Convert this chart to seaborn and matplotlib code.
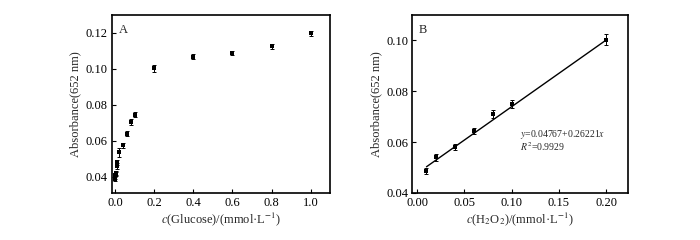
import matplotlib
matplotlib.use('Agg')
import matplotlib.pyplot as plt
import numpy as np
import seaborn as sns
import pandas as pd

# Panel A: glucose response
glu_conc = [0, 0.001, 0.002, 0.004, 0.006, 0.008, 0.01, 0.02, 0.04, 0.06, 0.08, 0.1, 0.2, 0.4, 0.6, 0.8, 1.0]
glu_abs = [0.039, 0.040, 0.041, 0.0415, 0.042, 0.046, 0.048, 0.0535, 0.0575, 0.064, 0.0705,
           0.0745, 0.1002, 0.1068, 0.1088, 0.1125, 0.1198]
glu_err = [0.0012, 0.0012, 0.0012, 0.0012, 0.0012, 0.0015, 0.0015, 0.0025, 0.0015, 0.0012, 0.0015,
           0.0015, 0.0018, 0.0012, 0.0012, 0.0015, 0.0015]

# Panel B: H2O2 calibration
h2o2_conc = [0.01, 0.02, 0.04, 0.06, 0.08, 0.10, 0.20]
h2o2_abs = [0.0485, 0.054, 0.058, 0.0645, 0.071, 0.075, 0.1002]
h2o2_err = [0.0012, 0.0015, 0.0013, 0.0012, 0.0015, 0.0017, 0.0022]
fit_a, fit_b = 0.04767, 0.26221
fit_range = [0.01, 0.20]

sns.set_style('ticks')
plt.rcParams['font.family'] = ['Liberation Serif', 'DejaVu Serif']
plt.rcParams['mathtext.fontset'] = 'stix'
plt.rcParams['font.size'] = 9

fig = plt.figure(figsize=(7, 2.4), dpi=100)
axA = fig.add_axes([0.160, 0.196, 0.311, 0.742])
axB = fig.add_axes([0.589, 0.196, 0.308, 0.742])

dfA = pd.DataFrame({'x': glu_conc, 'y': glu_abs})
dfB = pd.DataFrame({'x': h2o2_conc, 'y': h2o2_abs})

axA.errorbar(glu_conc, glu_abs, yerr=glu_err, fmt='none', ecolor='black', elinewidth=0.7,
             capsize=1.5, capthick=0.7)
sns.scatterplot(data=dfA, x='x', y='y', ax=axA, color='black', marker='s', s=5, linewidth=0)

fit_df = pd.DataFrame({'x': fit_range, 'y': [fit_a + fit_b * v for v in fit_range]})
sns.lineplot(data=fit_df, x='x', y='y', ax=axB, color='black', linewidth=1)
axB.errorbar(h2o2_conc, h2o2_abs, yerr=h2o2_err, fmt='none', ecolor='black', elinewidth=0.7,
             capsize=1.5, capthick=0.7)
sns.scatterplot(data=dfB, x='x', y='y', ax=axB, color='black', marker='s', s=6, linewidth=0)

axA.set_xlim(-0.015, 1.097)
axA.set_ylim(0.031, 0.130)
axA.set_xticks([0.0, 0.2, 0.4, 0.6, 0.8, 1.0])
axA.set_xticklabels(['0.0', '0.2', '0.4', '0.6', '0.8', '1.0'])
axA.set_yticks([0.04, 0.06, 0.08, 0.10, 0.12])
axA.set_yticklabels(['0.04', '0.06', '0.08', '0.10', '0.12'])
axA.set_xlabel('$c$(Glucose)/(mmol·L$^{-1}$)', labelpad=1)
axA.set_ylabel('Absorbance(652 nm)', labelpad=3)
axA.text(0.03, 0.95, 'A', transform=axA.transAxes, ha='left', va='top', fontsize=9)

axB.set_xlim(-0.005, 0.223)
axB.set_ylim(0.04, 0.11)
axB.set_xticks([0.0, 0.05, 0.10, 0.15, 0.20])
axB.set_xticklabels(['0.00', '0.05', '0.10', '0.15', '0.20'])
axB.set_yticks([0.04, 0.06, 0.08, 0.10])
axB.set_yticklabels(['0.04', '0.06', '0.08', '0.10'])
axB.set_xlabel('$c$(H$_2$O$_2$)/(mmol·L$^{-1}$)', labelpad=1)
axB.set_ylabel('Absorbance(652 nm)', labelpad=3)
axB.text(0.03, 0.95, 'B', transform=axB.transAxes, ha='left', va='top', fontsize=9)
axB.text(0.109, 0.0630, '$y$=0.04767+0.26221$x$', fontsize=7, va='center')
axB.text(0.109, 0.0584, '$R^2$=0.9929', fontsize=7, va='center')

for ax in (axA, axB):
    for sp in ax.spines.values():
        sp.set_visible(True)
        sp.set_linewidth(1.2)
        sp.set_color('black')
    ax.tick_params(direction='in', length=3, width=0.8, colors='black', labelsize=9, pad=3)

plt.savefig('out.png', dpi=100)
